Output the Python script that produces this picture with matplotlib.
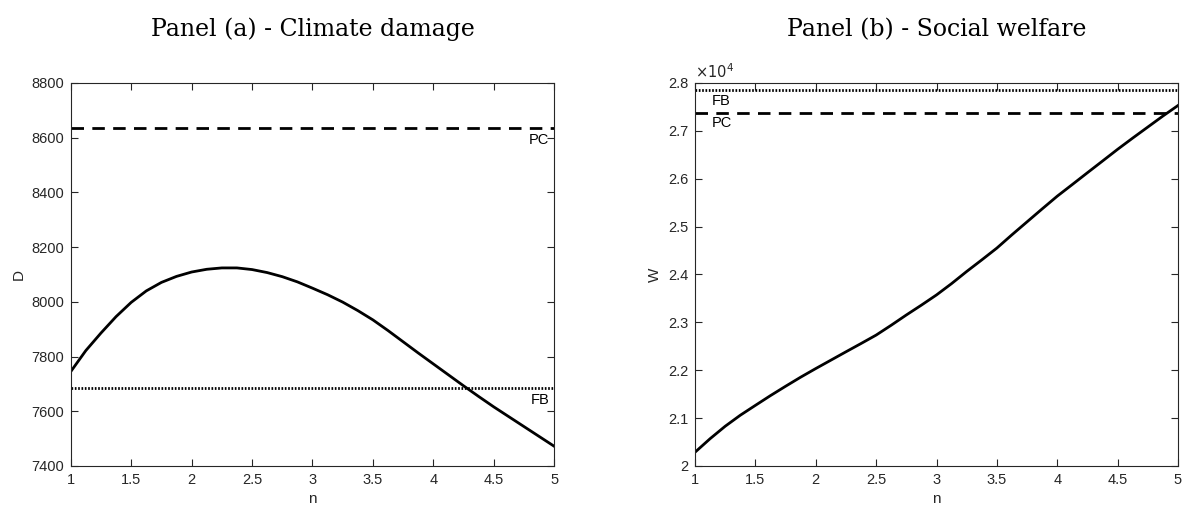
import matplotlib
matplotlib.use("Agg")
import matplotlib.pyplot as plt
from matplotlib.ticker import FuncFormatter

# values
n_vals = [1.0, 1.125, 1.25, 1.375, 1.5, 1.625, 1.75, 1.875, 2.0, 2.125, 2.25,
          2.375, 2.5, 2.625, 2.75, 2.875, 3.0, 3.125, 3.25, 3.375, 3.5,
          3.625, 3.75, 3.875, 4.0, 4.125, 4.25, 4.375, 4.5, 4.625, 4.75,
          4.875, 5.0]
D_vals = [7745, 7822, 7886, 7946, 7998, 8040, 8071, 8093, 8109, 8119, 8124,
          8124, 8118, 8107, 8092, 8073, 8050, 8026, 7999, 7968, 7934,
          7895, 7854, 7813, 7773, 7733, 7693, 7654, 7616, 7580, 7544,
          7508, 7472]
W_vals = [20287, 20570, 20830, 21060, 21266, 21470, 21665, 21855, 22035,
          22210, 22385, 22558, 22734, 22940, 23154, 23360, 23573, 23810,
          24063, 24305, 24552, 24830, 25100, 25370, 25636, 25880, 26126,
          26370, 26615, 26850, 27080, 27310, 27530]
D_PC = 8635
D_FB = 7685
W_PC = 27370
W_FB = 27860

x_ticks = [1, 1.5, 2, 2.5, 3, 3.5, 4, 4.5, 5]
D_ticks = [7400, 7600, 7800, 8000, 8200, 8400, 8600, 8800]
W_ticks = [2.0, 2.1, 2.2, 2.3, 2.4, 2.5, 2.6, 2.7, 2.8]

plt.rcParams["font.family"] = ["Liberation Sans", "DejaVu Sans"]
axcol = "#262626"
title_font = dict(family="DejaVu Serif", fontsize=17, color="black")

fig = plt.figure(figsize=(11.85, 5.11), dpi=100)
ax1 = fig.add_axes([0.0597, 0.0881, 0.408, 0.7495])
ax2 = fig.add_axes([0.5865, 0.0881, 0.4076, 0.7495])

g = FuncFormatter(lambda v, p: "%g" % v)


def style(ax):
    ax.set_xlim(1, 5)
    ax.set_xticks(x_ticks)
    ax.xaxis.set_major_formatter(g)
    ax.tick_params(direction="in", top=True, right=True, length=5,
                   width=0.8, colors=axcol, labelsize=10.5, pad=5)
    for s in ax.spines.values():
        s.set_color(axcol)
        s.set_linewidth(0.8)
    ax.set_xlabel("n", fontsize=11, color=axcol)


# Panel (a)
ax1.plot(n_vals, D_vals, color="black", lw=2)
ax1.axhline(D_PC, color="black", lw=2, dashes=(4.5, 3))
ax1.axhline(D_FB, color="black", lw=2, dashes=(0.6, 0.6))
ax1.text(4.96, D_PC - 45, "PC", ha="right", va="center", fontsize=10.5)
ax1.text(4.96, D_FB - 45, "FB", ha="right", va="center", fontsize=10.5)
ax1.set_ylim(7400, 8800)
ax1.set_yticks(D_ticks)
style(ax1)
ax1.set_ylabel("D", fontsize=11, color=axcol)
ax1.set_title("Panel (a) - Climate damage", pad=34, **title_font)

# Panel (b), plotted in units of 1e4
ax2.plot(n_vals, [w / 1e4 for w in W_vals], color="black", lw=2)
ax2.axhline(W_PC / 1e4, color="black", lw=2, dashes=(4.5, 3))
ax2.axhline(W_FB / 1e4, color="black", lw=2, dashes=(0.6, 0.6))
ax2.text(1.14, W_FB / 1e4 - 0.023, "FB", ha="left", va="center", fontsize=10.5)
ax2.text(1.14, W_PC / 1e4 - 0.021, "PC", ha="left", va="center", fontsize=10.5)
ax2.set_ylim(2.0, 2.8)
ax2.set_yticks(W_ticks)
ax2.yaxis.set_major_formatter(g)
style(ax2)
ax2.set_ylabel("W", fontsize=11, color=axcol)
ax2.text(0, 1.005, r"$\times10^{4}$", transform=ax2.transAxes, ha="left",
         va="bottom", fontsize=10.5, color=axcol)
ax2.set_title("Panel (b) - Social welfare", pad=34, **title_font)

fig.savefig("out.png", dpi=100)
